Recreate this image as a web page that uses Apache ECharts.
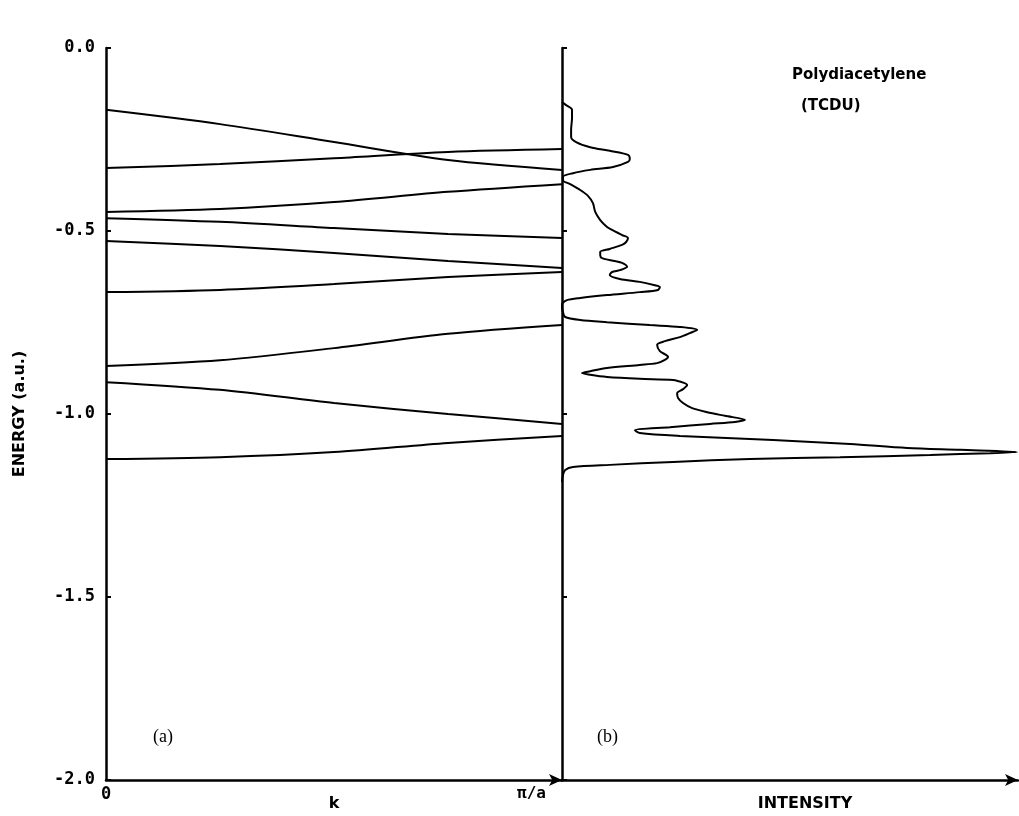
<!DOCTYPE html>
<html><head><meta charset="utf-8">
<script src="https://cdn.jsdelivr.net/npm/echarts@6/dist/echarts.min.js"></script>
<style>html,body{margin:0;padding:0;background:#fff}#c{width:1019px;height:816px}</style>
</head><body><div id="c"></div>
<script>
// Band structure (a): energy (a.u.) at k = 0 ... pi/a
const kPoints = [0, 0.25, 0.5, 0.75, 1];
const bandA = [-0.169, -0.208, -0.257, -0.306, -0.333];
const bandB = [-0.328, -0.317, -0.301, -0.284, -0.276];
const bandC = [-0.448, -0.440, -0.421, -0.393, -0.372];
const bandD = [-0.465, -0.475, -0.492, -0.508, -0.519];
const bandE = [-0.527, -0.541, -0.560, -0.582, -0.601];
const bandF = [-0.667, -0.661, -0.645, -0.626, -0.612];
const bandG = [-0.869, -0.853, -0.820, -0.781, -0.757];
const bandH = [-0.913, -0.934, -0.970, -1.000, -1.027];
const bandI = [-1.123, -1.118, -1.104, -1.079, -1.060];
const bands = [bandA, bandB, bandC, bandD, bandE, bandF, bandG, bandH, bandI];

// Density of states (b): intensity (arb. units, peak = 100) vs energy (a.u.)
const dosIntensity = [0, 0.9, 2.2, 2.2, 2.0, 2.0, 3.1, 6.2, 10.5, 14.5, 14.9, 14.5, 11.2, 6.2, 2.4, 0.2, 0.2, 1.8, 4.0, 5.7,
  6.8, 7.3, 8.4, 9.9, 11.0, 13.2, 14.5, 14.1, 13.2, 10.5, 8.4, 8.4, 8.8, 11.6, 13.2, 14.3, 12.7, 11.0, 10.5, 12.7,
  17.1, 20.4, 21.5, 21.1, 17.1, 9.9, 4.0, 1.1, 0, 0, 0.2, 0.7, 4.0, 9.9, 19.3, 25.9, 29.7, 28.1, 25.9, 22.6,
  20.9, 21.5, 23.3, 22.6, 20.9, 17.1, 9.9, 6.2, 4.4, 6.2, 9.9, 17.1, 24.4, 26.8, 27.5, 26.6, 25.3, 25.5, 26.6, 28.6,
  31.9, 35.8, 40.2, 38.0, 32.5, 23.7, 16.0, 17.1, 25.9, 46.4, 63.3, 75.8, 87.5, 100, 94.1, 80.9, 61.1, 41.3, 24.4, 10.5,
  2.4, 0.7, 0.2, 0];
const dosEnergy = [-0.148, -0.156, -0.169, -0.191, -0.224, -0.243, -0.257, -0.271, -0.281, -0.292, -0.303, -0.311, -0.325, -0.333, -0.342, -0.352, -0.361, -0.372, -0.388, -0.404,
  -0.424, -0.448, -0.470, -0.489, -0.497, -0.511, -0.519, -0.530, -0.538, -0.549, -0.557, -0.566, -0.574, -0.582, -0.587, -0.598, -0.607, -0.612, -0.620, -0.631,
  -0.639, -0.648, -0.653, -0.661, -0.667, -0.675, -0.683, -0.689, -0.700, -0.708, -0.721, -0.735, -0.743, -0.749, -0.757, -0.762, -0.770, -0.779, -0.790, -0.801,
  -0.811, -0.828, -0.844, -0.852, -0.861, -0.866, -0.874, -0.883, -0.888, -0.893, -0.899, -0.904, -0.907, -0.915, -0.921, -0.932, -0.943, -0.956, -0.970, -0.984,
  -0.995, -1.005, -1.016, -1.022, -1.027, -1.036, -1.044, -1.052, -1.060, -1.071, -1.082, -1.093, -1.098, -1.104, -1.107, -1.112, -1.118, -1.123, -1.131, -1.139,
  -1.145, -1.153, -1.167, -1.186];

const kTickLabels = ['0', 'π/a'];

const chart = echarts.init(document.getElementById('c'), null, {renderer: 'canvas'});
const black = '#000';
const boldMono = {fontFamily: 'DejaVu Sans Mono', fontWeight: 'bold', fontSize: 17, color: black};
const boldSans = {fontFamily: 'DejaVu Sans', fontWeight: 'bold', color: black};

const series = bands.map((b, i) => ({
  type: 'line', xAxisIndex: 0, yAxisIndex: 0, name: 'band' + (i + 1),
  data: kPoints.map((k, j) => [k, b[j]]),
  showSymbol: false, smooth: 0.3,
  lineStyle: {color: black, width: 2}
}));
series.push({
  type: 'line', xAxisIndex: 1, yAxisIndex: 1, name: 'DOS',
  data: dosIntensity.map((v, i) => [v, dosEnergy[i]]),
  showSymbol: false, smooth: 0.3,
  lineStyle: {color: black, width: 2}
});

chart.setOption({
  animation: false,
  backgroundColor: '#fff',
  title: [
    {text: 'Polydiacetylene', left: 787, top: 63, textStyle: Object.assign({fontSize: 15}, boldSans)},
    {text: '(TCDU)', left: 796, top: 94, textStyle: Object.assign({fontSize: 15}, boldSans)}
  ],
  graphic: [
    {type: 'text', left: 153, top: 728, style: {text: '(a)', fontFamily: 'Liberation Serif', fontSize: 18, fill: black}},
    {type: 'text', left: 597, top: 728, style: {text: '(b)', fontFamily: 'Liberation Serif', fontSize: 18, fill: black}}
  ],
  grid: [
    {left: 106, top: 48, width: 456, bottom: 36, containLabel: false, outerBoundsMode: 'none'},
    {left: 562, top: 48, right: 1, bottom: 36, containLabel: false, outerBoundsMode: 'none'}
  ],
  xAxis: [
    {
      type: 'value', gridIndex: 0, min: 0, max: 1, interval: 1,
      name: 'k', nameLocation: 'middle', nameGap: 16, nameMoveOverlap: false,
      nameTextStyle: Object.assign({fontSize: 16}, boldSans),
      axisLine: {show: true, onZero: false, lineStyle: {color: black, width: 2.5}, symbol: ['none', 'arrow'], symbolSize: [9, 13]},
      axisTick: {show: false},
      splitLine: {show: false},
      axisLabel: Object.assign({
        margin: 6, fontSize: 16, alignMaxLabel: 'right',
        formatter: v => v === 0 ? kTickLabels[0] : '{p|' + kTickLabels[1] + '}',
        rich: {p: {fontFamily: 'DejaVu Sans Mono', fontWeight: 'bold', fontSize: 16, color: black, padding: [0, 16, 0, 0]}}
      }, boldMono)
    },
    {
      type: 'value', gridIndex: 1, min: 0, max: 100.2,
      name: 'INTENSITY', nameLocation: 'middle', nameGap: 16, nameMoveOverlap: false,
      nameTextStyle: Object.assign({fontSize: 16, padding: [0, 0, 0, 30]}, boldSans),
      axisLine: {show: true, onZero: false, lineStyle: {color: black, width: 2.5}, symbol: ['none', 'arrow'], symbolSize: [9, 13]},
      axisTick: {show: false},
      splitLine: {show: false},
      axisLabel: {show: false}
    }
  ],
  yAxis: [
    {
      type: 'value', gridIndex: 0, min: -2, max: 0, interval: 0.5,
      name: 'ENERGY (a.u.)', nameLocation: 'middle', nameGap: 78, nameRotate: 90, nameMoveOverlap: false,
      nameTextStyle: Object.assign({fontSize: 16}, boldSans),
      axisLine: {show: true, onZero: false, lineStyle: {color: black, width: 2.5}},
      axisTick: {show: true, inside: true, length: 5, lineStyle: {color: black, width: 2}},
      splitLine: {show: false},
      axisLabel: Object.assign({margin: 11, formatter: v => v.toFixed(1)}, boldMono)
    },
    {
      type: 'value', gridIndex: 1, min: -2, max: 0, interval: 0.5,
      axisLine: {show: true, onZero: false, lineStyle: {color: black, width: 2.5}},
      axisTick: {show: true, inside: true, length: 5, lineStyle: {color: black, width: 2}},
      splitLine: {show: false},
      axisLabel: {show: false}
    }
  ],
  series: series
});
</script>
</body></html>
